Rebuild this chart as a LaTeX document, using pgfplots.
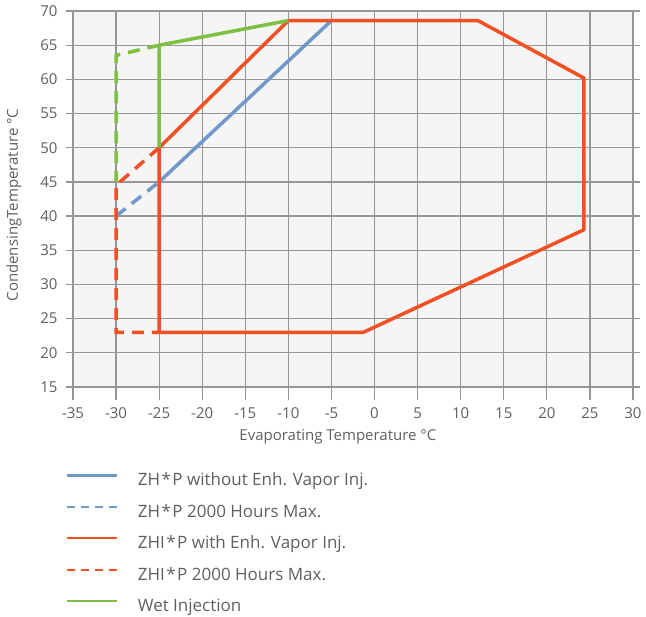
\documentclass[border=0pt]{standalone}
\usepackage{pgfplots}
\pgfplotsset{compat=1.18}
\usepackage{fontspec}
\setmainfont{Open Sans}
\definecolor{cblue}{RGB}{112,152,200}
\definecolor{cred}{RGB}{240,80,35}
\definecolor{cgreen}{RGB}{125,192,66}
\definecolor{ctext}{RGB}{95,95,95}
\definecolor{cgrid}{RGB}{150,150,150}
\definecolor{cbg}{RGB}{245,245,245}
\begin{document}
\begin{tikzpicture}[x=1pt,y=1pt]
\path[use as bounding box] (0,0) rectangle (646,-617);
\begin{axis}[
  at={(73pt,-11pt)}, anchor=north west,
  scale only axis, width=560pt, height=376pt,
  xmin=-35, xmax=30, ymin=15, ymax=70,
  xtick={-35,-30,...,30}, ytick={15,20,...,70},
  grid=major, major grid style={cgrid, line width=1.3pt},
  axis background/.style={fill=cbg},
  axis line style={cgrid, line width=1.3pt},
  tick align=outside, major tick length=7pt,
  xtick style={draw=none}, ytick style={cgrid, line width=1.3pt},
  /pgf/number format/assume math mode=true,
  /pgf/number format/1000 sep={},
  tick label style={font=\fontsize{15}{17}\selectfont, text=ctext},
  xticklabel style={yshift=-10pt},
  yticklabel style={xshift=-5pt},
  xlabel={Evaporating Temperature °C},
  ylabel={CondensingTemperature °C},
  label style={font=\fontsize{15}{17}\selectfont, text=ctext},
  xlabel style={at={(axis description cs:0.473,-0.1330)}, anchor=center},
  ylabel style={at={(axis description cs:-0.1054,0.484)}, anchor=center},
  clip=false,
  legend style={at={(axis description cs:0,0)}, anchor=north west,
    xshift=-7pt, yshift=-86pt, draw=none, fill=none, inner sep=0pt, outer sep=0pt,
    font=\fontsize{17}{20}\selectfont, text=ctext, row sep=14.4pt,
    nodes={inner sep=0pt, text height=13pt, text depth=4pt}},
  legend cell align=left,
  legend image code/.code={\draw[#1, line width=2.2pt] (0pt,6pt) -- (50pt,6pt); \path (69pt,6pt);},
]
\pgfplotsinvokeforeach{-35,-30,...,30}{\draw[cgrid, line width=1.3pt] (axis cs:#1,15) -- ++(0pt,-13pt);}
\addplot[cblue, line width=3.5pt] coordinates {(-25,45) (-5,68.6)};
\addlegendentry{ZH\kern1.5pt*\kern1.5pt P without Enh. Vapor Inj.}
\addplot[cblue, line width=3.5pt, dash pattern=on 12pt off 8pt, legend image post style={dash pattern=on 8pt off 6pt}] coordinates {(-30,40) (-25,45)};
\addlegendentry{ZH\kern1.5pt*\kern1.5pt P 2000 Hours Max.}
\addplot[cred, line width=3.5pt, line join=round] coordinates {(-25,50) (-10,68.6) (12,68.6) (24.3,60.2) (24.3,38) (-1.3,23) (-25,23) (-25,50)};
\addlegendentry{ZHI\kern1.5pt*\kern1.5pt P with Enh. Vapor Inj.}
\addplot[cred, line width=3.5pt, dash pattern=on 12pt off 8pt, legend image post style={dash pattern=on 8pt off 6pt}] coordinates {(-25,50) (-30,44.5) (-30,23) (-25,23)};
\addlegendentry{ZHI\kern1.5pt*\kern1.5pt P 2000 Hours Max.}
\addplot[cgreen, line width=3.5pt, line join=round] coordinates {(-25,50) (-25,65) (-10,68.6)};
\addlegendentry{Wet Injection}
\addplot[cgreen, line width=3.5pt, dash pattern=on 12pt off 8pt, forget plot] coordinates {(-25,65) (-30,63.5) (-30,45)};
\end{axis}
\end{tikzpicture}
\end{document}
